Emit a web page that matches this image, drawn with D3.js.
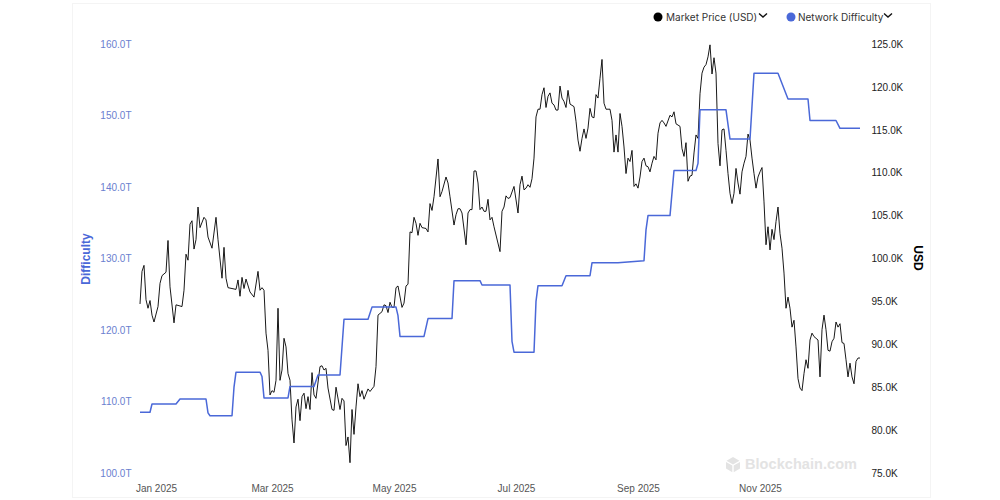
<!DOCTYPE html>
<html><head><meta charset="utf-8">
<script src="https://cdn.jsdelivr.net/npm/d3@7"></script>
<style>html,body{margin:0;padding:0;background:#fff}svg{display:block}</style>
</head><body><svg id="c" width="1000" height="500"></svg>
<script>
// Days are counted from 1 Jan 2025
const priceDays = [-5,-4,-3,-2,-1,0,1,2,4,5,6,8,9,10,12,13,16,17,18,19,20,21,22,23,24,25,27,28,29,31,33,34,36,37,38,39,43,44,45,46,47,48,50,52,54,55,56,57,58,59,60,61,62,63,64,65,66,67,68,69,70,71,72,73,74,75,76,77,78,79,80,81,82,83,85,86,87,88,89,91,92,93,95,96,97,98,99,100,101,102,103,104,105,106,107,109,110,112,113,114,115,116,117,118,119,120,121,122,123,124,126,127,128,129,130,131,132,133,134,135,136,138,139,140,141,142,144,145,146,148,149,150,152,153,154,155,156,158,159,160,161,162,163,164,165,166,167,168,169,170,171,172,175,176,177,178,179,180,182,184,185,186,187,188,189,190,191,192,193,194,195,196,197,198,199,200,201,202,203,204,205,206,207,208,209,210,212,213,214,215,216,217,218,219,220,221,222,223,224,225,226,227,228,230,231,232,233,234,235,236,237,238,239,240,241,242,243,244,245,246,247,248,249,250,251,252,253,254,255,256,257,258,260,261,262,263,265,266,267,268,269,270,271,272,273,274,275,276,277,278,279,280,281,282,283,284,285,286,287,288,289,290,291,292,293,294,295,296,297,298,299,300,301,302,303,304,305,306,307,308,309,310,311,312,313,314,315,316,317,318,319,320,321,322,323,324,325,326,327,328,329,330,331,332,334,335,336,337,338,339,340,341,342,343,344,345,346,347,348,349,350,351,352,353,354,355];
const priceK = [94.7,98.5,99.2,95.2,94.2,95.1,93.4,92.6,94.4,97.1,98.0,98.4,102.1,96.7,92.5,94.6,94.4,96.3,100.5,99.8,104.0,104.4,101.1,102.2,106.0,103.6,104.8,104.5,102.5,101.2,104.8,102.2,97.7,101.3,97.7,96.6,96.4,97.5,95.6,97.8,96.5,97.6,96.1,95.5,98.5,96.3,96.6,96.3,91.3,89.3,84.1,84.6,84.4,85.8,94.2,85.8,87.0,90.7,89.7,86.6,85.8,81.2,78.5,82.7,83.6,81.1,83.9,84.3,82.5,83.9,82.4,86.7,84.1,83.7,87.4,87.5,87.0,87.2,84.9,82.4,82.3,85.0,82.4,83.7,83.4,78.2,79.2,76.2,82.4,79.5,82.7,85.4,83.9,84.6,83.6,84.8,84.5,85.1,87.4,93.4,93.6,93.8,94.6,94.5,93.7,94.9,94.3,94.3,96.6,96.8,94.3,94.8,96.8,97.0,103.1,103.0,104.8,104.1,102.7,104.1,103.6,103.5,103.1,106.4,105.6,107.2,111.6,107.2,107.8,109.5,108.8,107.2,103.9,105.1,105.8,105.8,105.3,101.6,105.3,105.7,105.7,110.2,110.2,108.8,105.7,106.0,105.5,105.5,106.9,104.5,104.8,103.7,100.8,105.5,106.0,107.3,107.0,107.1,108.4,105.3,108.6,109.6,108.0,108.2,108.6,108.3,109.3,111.7,116.5,117.4,117.4,119.1,119.9,117.6,118.9,119.3,118.1,117.9,117.3,117.3,120.1,118.7,118.3,117.6,119.6,118.0,117.7,116.0,113.8,112.5,114.0,115.1,114.0,115.2,117.5,116.5,116.4,119.1,118.7,121.0,123.2,118.1,117.4,117.4,116.1,112.4,114.4,112.4,116.9,115.4,113.0,109.9,111.7,111.3,112.6,108.4,108.7,108.2,109.5,111.3,111.7,110.8,110.7,110.1,111.1,111.9,111.5,114.6,115.8,116.1,115.8,115.4,116.7,116.5,117.1,115.7,115.4,112.8,111.9,113.5,109.0,109.6,109.7,112.3,114.4,114.0,119.2,121.6,122.3,122.6,123.5,124.9,121.5,123.4,121.6,113.4,110.8,115.0,115.1,112.6,109.9,107.6,106.4,107.6,110.5,108.8,107.5,110.1,111.1,111.9,114.5,113.8,111.7,109.9,108.2,109.5,110.1,110.6,106.6,101.6,103.7,101.0,103.4,102.2,104.3,106.0,102.9,101.2,98.3,94.2,95.5,94.2,92.0,92.8,89.7,86.0,84.9,84.6,86.6,88.2,87.2,90.5,91.3,90.9,90.5,86.2,91.7,93.4,91.7,89.3,89.2,90.3,90.7,92.6,92.0,92.4,90.2,90.1,88.2,86.2,87.8,86.2,85.4,88.0,88.4,88.4];
const diffDays = [-5,0,1,13,15,28,29,30,41,42,43,55,56,57,69,70,82,84,95,97,109,111,123,124,125,137,139,151,152,165,166,180,181,182,192,193,194,206,208,220,221,234,247,248,249,260,262,273,274,275,288,290,300,302,314,319,329,330,343,345,355];
const diffT = [108.5,108.5,109.65,109.65,110.35,110.35,108.4,108.0,108.0,112,114.1,114.1,113.5,110.5,110.5,112.1,112.1,113.7,113.7,121.5,121.5,123.2,123.2,122,119.1,119.1,121.6,121.6,126.9,126.9,126.3,126.3,118.4,116.9,116.9,124,126.2,126.2,127.6,127.6,129.4,129.4,129.7,134,136,136,142.3,142.3,143.3,150.8,150.8,146.7,146.7,155.9,155.9,152.3,152.3,149.3,149.3,148.2,148.2];
const tickDays = [3,61,122,183,244,305];
const leftTicks = [100,110,120,130,140,150,160];
const rightTicks = [75,80,85,90,95,100,105,110,115,120,125];
const legendLabels = ["Market Price (USD)","Network Difficulty"];
const seriesColors = ["#000000","#4a68d8"];

const toDate = d => new Date(Date.UTC(2025,0,1+d));
const x = d3.scaleUtc().domain([toDate(-5),toDate(355)]).range([140,860]);
const yL = d3.scaleLinear().domain([100,160]).range([473,44]);
const yR = d3.scaleLinear().domain([75,125]).range([473,44]);
const svg = d3.select("#c");
const sans = "Liberation Sans, Arial, sans-serif";

svg.append("rect").attr("x",72.5).attr("y",3.5).attr("width",858).attr("height",494)
  .attr("fill","#fff").attr("stroke","#f4f4f4");

// watermark
const wm = svg.append("g").attr("fill","#e3e3e3");
wm.append("path").attr("d","M733 457l6.5 3.7-6.5 3.7-6.5-3.7zM726 462l6.3 3.6v6.6l-6.3-3.6zM740 462l-6.3 3.6v6.6l6.3-3.6z");
wm.append("text").attr("x",745).attr("y",469).attr("font-family",sans).attr("font-weight",700)
  .attr("font-size",14.5).attr("textLength",112).text("Blockchain.com");

const axB = svg.append("g").attr("transform","translate(0,473)").call(
  d3.axisBottom(x).tickValues(tickDays.map(toDate)).tickFormat(d3.utcFormat("%b %Y")).tickSize(0).tickPadding(12));
const axL = svg.append("g").attr("transform","translate(131.5,0)").call(
  d3.axisLeft(yL).tickValues(leftTicks).tickFormat(d=>d.toFixed(1)+"T").tickSize(0).tickPadding(0));
const axR = svg.append("g").attr("transform","translate(871.5,0)").call(
  d3.axisRight(yR).tickValues(rightTicks).tickFormat(d=>d.toFixed(1)+"K").tickSize(0).tickPadding(0));
[axB,axL,axR].forEach(a=>{a.select(".domain").remove();a.selectAll("text").attr("font-family",sans).attr("font-size",10);});
axB.selectAll("text").attr("fill","#555");
axL.selectAll("text").attr("fill","#6b80cf");
axR.selectAll("text").attr("fill","#222");

const line = (yS)=>d3.line().x(d=>x(toDate(d[0]))).y(d=>yS(d[1]));
svg.append("path").attr("fill","none").attr("stroke",seriesColors[0]).attr("stroke-width",1).attr("stroke-opacity",0.9).attr("stroke-linejoin","round")
  .attr("d",line(yR)(d3.zip(priceDays,priceK)));
svg.append("path").attr("fill","none").attr("stroke",seriesColors[1]).attr("stroke-width",1.5).attr("stroke-linejoin","round")
  .attr("d",line(yL)(d3.zip(diffDays,diffT)));

svg.append("text").attr("transform","translate(90,259) rotate(-90)").attr("text-anchor","middle")
  .attr("font-family",sans).attr("font-weight",700).attr("font-size",12).attr("fill",seriesColors[1]).text("Difficulty");
svg.append("text").attr("transform","translate(914,258) rotate(90)").attr("text-anchor","middle")
  .attr("font-family",sans).attr("font-weight",700).attr("font-size",12).attr("fill","#000").text("USD");

// legend
[[658,666,759],[791,798,884]].forEach((p,i)=>{
  svg.append("circle").attr("cx",p[0]).attr("cy",17).attr("r",4.5).attr("fill",seriesColors[i]);
  svg.append("text").attr("x",p[1]).attr("y",20.5).attr("font-family","Inter, sans-serif").attr("font-size",10)
    .attr("fill","#333").text(legendLabels[i]);
  svg.append("path").attr("d",`M${p[2]} 13.5l4 3.5 4-3.5`).attr("fill","none").attr("stroke","#111").attr("stroke-width",1.4);
});
</script></body></html>
